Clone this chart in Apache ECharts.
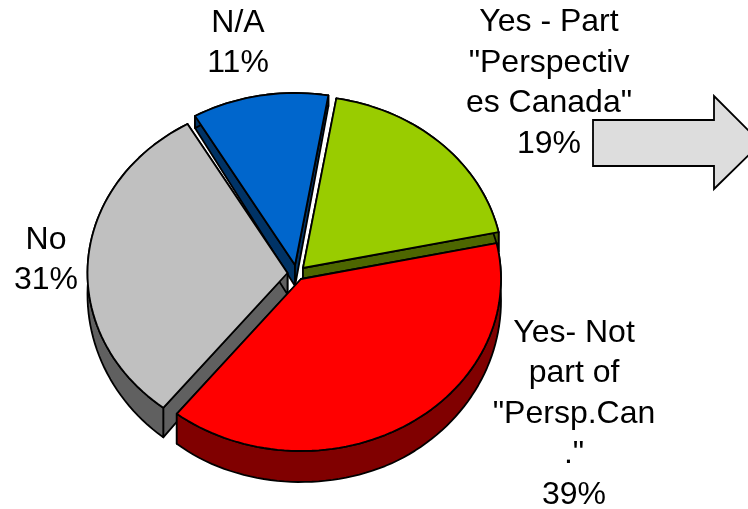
<!DOCTYPE html>
<html>
<head>
<meta charset="utf-8">
<style>html,body{margin:0;padding:0;background:#fff}#c{width:748px;height:509px}</style>
<script src="https://cdn.jsdelivr.net/npm/echarts@6/dist/echarts.min.js"></script>
</head>
<body>
<div id="c"></div>
<script>
// Data, in clockwise order from the start angle
const categories = ['N/A', 'Yes - Part\n"Perspectiv\nes Canada"', 'Yes- Not\npart of\n"Persp.Can\n."', 'No'];
const shares = [11, 19, 39, 31];

// Styles and layout
const topColors = ['#0066CC', '#99CC00', '#FF0000', '#C0C0C0'];
const sideColors = ['#003366', '#4D6600', '#800000', '#606060'];
const anchors = [[295, 265], [303, 268], [301, 279], [287.5, 273]];
const labelCentres = [[238, 43], [549, 83], [574, 414], [46, 260]];
const drawLayer = [1, 2, 4, 3];
const RX = 200, RY = 172, START = -30;
const total = shares.reduce((a, b) => a + b, 0);

function depthAt(y) {
  return Math.min(31, 12 + (y - 115) * 0.06);
}

function renderSlice(params, api) {
  const i = api.value(0), v = api.value(1);
  let before = 0;
  for (let k = 0; k < i; k++) before += shares[k];
  const a0 = START + before / total * 360;
  const a1 = a0 + v / total * 360;
  const [ax, ay] = anchors[i];
  const arc = [];
  const steps = Math.ceil((a1 - a0) / 2);
  for (let s = 0; s <= steps; s++) {
    const t = (a0 + (a1 - a0) * s / steps) * Math.PI / 180;
    arc.push([ax + RX * Math.sin(t), ay - RY * Math.cos(t)]);
  }
  const down = p => [p[0], p[1] + depthAt(p[1])];
  const px = pts => pts.map(p => api.coord(p));
  const z = drawLayer[i] * 10;
  const line = { stroke: '#000', lineWidth: 1.8, lineJoin: 'round' };
  const apex = [ax, ay];
  const first = arc[0], last = arc[arc.length - 1];
  const wallStyle = Object.assign({ fill: sideColors[i] }, line);
  const children = [
    { type: 'polygon', z2: z, shape: { points: px([apex, first, down(first), down(apex)]) }, style: wallStyle },
    { type: 'polygon', z2: z, shape: { points: px([apex, last, down(last), down(apex)]) }, style: wallStyle },
    { type: 'polygon', z2: z + 1, shape: { points: px(arc.concat(arc.slice().reverse().map(down))) }, style: wallStyle },
    { type: 'polygon', z2: z + 2, shape: { points: px([apex].concat(arc)) },
      style: Object.assign({ fill: topColors[i] }, line) },
    { type: 'text', z2: 100, style: {
        text: categories[i] + '\n' + v + '%',
        x: api.coord(labelCentres[i])[0], y: api.coord(labelCentres[i])[1],
        align: 'center', verticalAlign: 'middle',
        font: '32px "Liberation Sans", Arial, sans-serif', lineHeight: 40.5, fill: '#000'
    } }
  ];
  return { type: 'group', children };
}

const chart = echarts.init(document.getElementById('c'), null, { renderer: 'canvas' });
chart.setOption({
  animation: false,
  backgroundColor: '#fff',
  grid: { left: 0, right: 0, top: 0, bottom: 0 },
  xAxis: { type: 'value', min: 0, max: 748, show: false },
  yAxis: { type: 'value', min: 0, max: 509, inverse: true, show: false },
  graphic: [{
    type: 'polygon', z: 5,
    shape: { points: [[593, 120], [714, 120], [714, 96], [761, 143], [714, 189], [714, 166], [593, 166]] },
    style: { fill: '#DDDDDD', stroke: '#000', lineWidth: 1.8 }
  }],
  series: [{
    type: 'custom', coordinateSystem: 'cartesian2d', clip: false, silent: true, z: 2,
    renderItem: renderSlice,
    encode: { x: 0, y: 1 },
    data: shares.map((v, i) => [i, v])
  }]
});
</script>
</body>
</html>
